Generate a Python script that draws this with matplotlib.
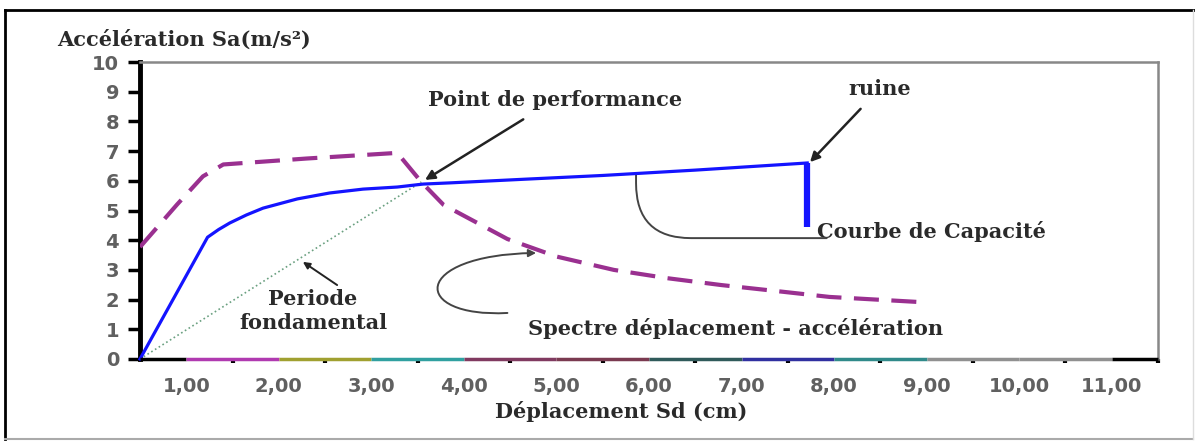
import matplotlib.pyplot as plt
import numpy as np
from matplotlib.lines import Line2D
from matplotlib.patches import FancyArrowPatch
from matplotlib.path import Path

# courbe de capacite (Sd en cm, Sa en m/s2)
cap_x = [0.0, 0.73, 0.85, 0.97, 1.15, 1.33, 1.70, 2.05, 2.41, 2.78, 3.06, 3.35, 4.2, 5.0, 6.0, 7.21]
cap_y = [0.0, 4.10, 4.36, 4.58, 4.85, 5.08, 5.39, 5.59, 5.72, 5.79, 5.89, 5.93, 6.06, 6.18, 6.36, 6.60]
ruine_x = [7.21, 7.21]
ruine_y = [6.60, 4.44]

# spectre deplacement - acceleration
spec_x = [0.0, 0.40, 0.68, 0.90, 1.8, 2.78, 3.04, 3.28, 3.97, 4.5, 5.12, 5.7, 6.28, 6.9, 7.45, 8.41]
spec_y = [3.77, 5.20, 6.15, 6.55, 6.75, 6.94, 5.96, 5.19, 4.04, 3.45, 3.00, 2.72, 2.49, 2.28, 2.09, 1.92]

# periode fondamentale
per_x = [0.0, 3.04]
per_y = [0.0, 5.96]

xlabels = ['1,00', '2,00', '3,00', '4,00', '5,00', '6,00', '7,00', '8,00', '9,00', '10,00', '11,00']
axis_colors = ['black', '#b03ab0', '#a0a030', '#30a0a0', '#803a60', '#7a3a50', '#305a5a',
               '#3030a0', '#308a8a', '#909090', '#909090', 'black']

serif = 'DejaVu Serif'
txt_col = '#2a2a2a'

fig = plt.figure(figsize=(11.95, 4.42), dpi=100)
ax = fig.add_axes([140 / 1195, 1 - 359 / 442, 1018 / 1195, 297 / 442])

ax.plot(per_x, per_y, color='#6aa080', lw=1.2, linestyle=':', zorder=2)
ax.plot(spec_x, spec_y, color='#9a3090', lw=3, dashes=(6, 3), zorder=3)
ax.plot(cap_x, cap_y, color='#1414ff', lw=2.3, zorder=4, clip_on=False)
ax.plot(ruine_x, ruine_y, color='#1414ff', lw=4.5, zorder=4, solid_capstyle='butt')

ax.set_xlim(0, 11)
ax.set_ylim(0, 10)

# axe des x en segments colores (artefact Excel)
bounds = [0] + [i + 0.5 for i in range(11)] + [11]
for k, c in enumerate(axis_colors):
    ax.plot([bounds[k], bounds[k + 1]], [0, 0], color=c, lw=2.5, clip_on=False,
            solid_capstyle='butt', zorder=5)
ax.spines['bottom'].set_visible(False)

ax.set_xticks(np.arange(11) + 0.5)
ax.set_xticklabels(xlabels)
ax.set_xticks(np.arange(1, 12), minor=True)
ax.tick_params(axis='x', which='major', length=0, pad=13, labelsize=14, labelcolor='#606060')
ax.tick_params(axis='x', which='minor', length=3, width=3, color='black')
ax.set_yticks(range(11))
ax.tick_params(axis='y', length=9, width=2.5, pad=6, labelsize=14, labelcolor='#606060')
for lab in ax.get_xticklabels() + ax.get_yticklabels():
    lab.set_fontweight('bold')

ax.spines['left'].set_linewidth(3.5)
ax.spines['left'].set_color('black')
for s in ['top', 'right']:
    ax.spines[s].set_color('#888888')
    ax.spines[s].set_linewidth(1.8)

fig.text(57 / 1195, 1 - 40 / 442, 'Accélération Sa(m/s²)', family=serif, weight='bold',
         fontsize=15, color=txt_col, ha='left', va='center')
ax.text(5.2, -1.78, 'Déplacement Sd (cm)', family=serif, weight='bold', fontsize=15,
        color=txt_col, ha='center', va='center')

ann = dict(family=serif, weight='bold', fontsize=15, color=txt_col)
ax.annotate('Point de performance', xy=(3.08, 6.03), xytext=(4.48, 8.72), ha='center', va='center',
            arrowprops=dict(arrowstyle='-|>', color='#222222', lw=1.8, shrinkA=9, shrinkB=0,
                            mutation_scale=14), **ann)
ax.annotate('ruine', xy=(7.24, 6.63), xytext=(7.99, 9.09), ha='center', va='center',
            arrowprops=dict(arrowstyle='-|>', color='#222222', lw=1.8, shrinkA=7, shrinkB=0,
                            mutation_scale=14), **ann)
ax.text(7.31, 4.30, 'Courbe de Capacité', ha='left', va='center', **ann)
ax.annotate('', xy=(5.36, 6.2), xytext=(7.42, 4.07),
            arrowprops=dict(arrowstyle='-', color='#444444', lw=1.4, shrinkA=0, shrinkB=0,
                            connectionstyle='angle,angleA=0,angleB=90,rad=55'))
ax.text(1.87, 1.62, 'Periode\nfondamental', ha='center', va='center', linespacing=1.25, **ann)
ax.annotate('', xy=(1.76, 3.27), xytext=(2.13, 2.49),
            arrowprops=dict(arrowstyle='-|>', color='#222222', lw=1.4, shrinkA=0, shrinkB=0,
                            mutation_scale=10))
ax.text(6.43, 1.02, 'Spectre déplacement - accélération', ha='center', va='center', **ann)
loop = Path([(3.97, 1.55), (2.92, 1.38), (2.92, 3.50), (4.28, 3.57)],
            [Path.MOVETO, Path.CURVE4, Path.CURVE4, Path.CURVE4])
ax.add_patch(FancyArrowPatch(path=loop, arrowstyle='-|>', color='#444444', lw=1.4,
                             mutation_scale=11))

# cadre de la figure
fig.add_artist(Line2D([5 / 1195, 5 / 1195], [1 - 10 / 442, 1 - 439 / 442], color='black', lw=2))
fig.add_artist(Line2D([5 / 1195, 1], [1 - 10 / 442, 1 - 10 / 442], color='black', lw=2))
fig.add_artist(Line2D([5 / 1195, 1193 / 1195], [1 - 439 / 442, 1 - 439 / 442], color='#aaaaaa', lw=1.5))
fig.add_artist(Line2D([1193 / 1195, 1193 / 1195], [1 - 10 / 442, 1 - 439 / 442], color='#dddddd', lw=1))

fig.savefig('out.png', dpi=100)
